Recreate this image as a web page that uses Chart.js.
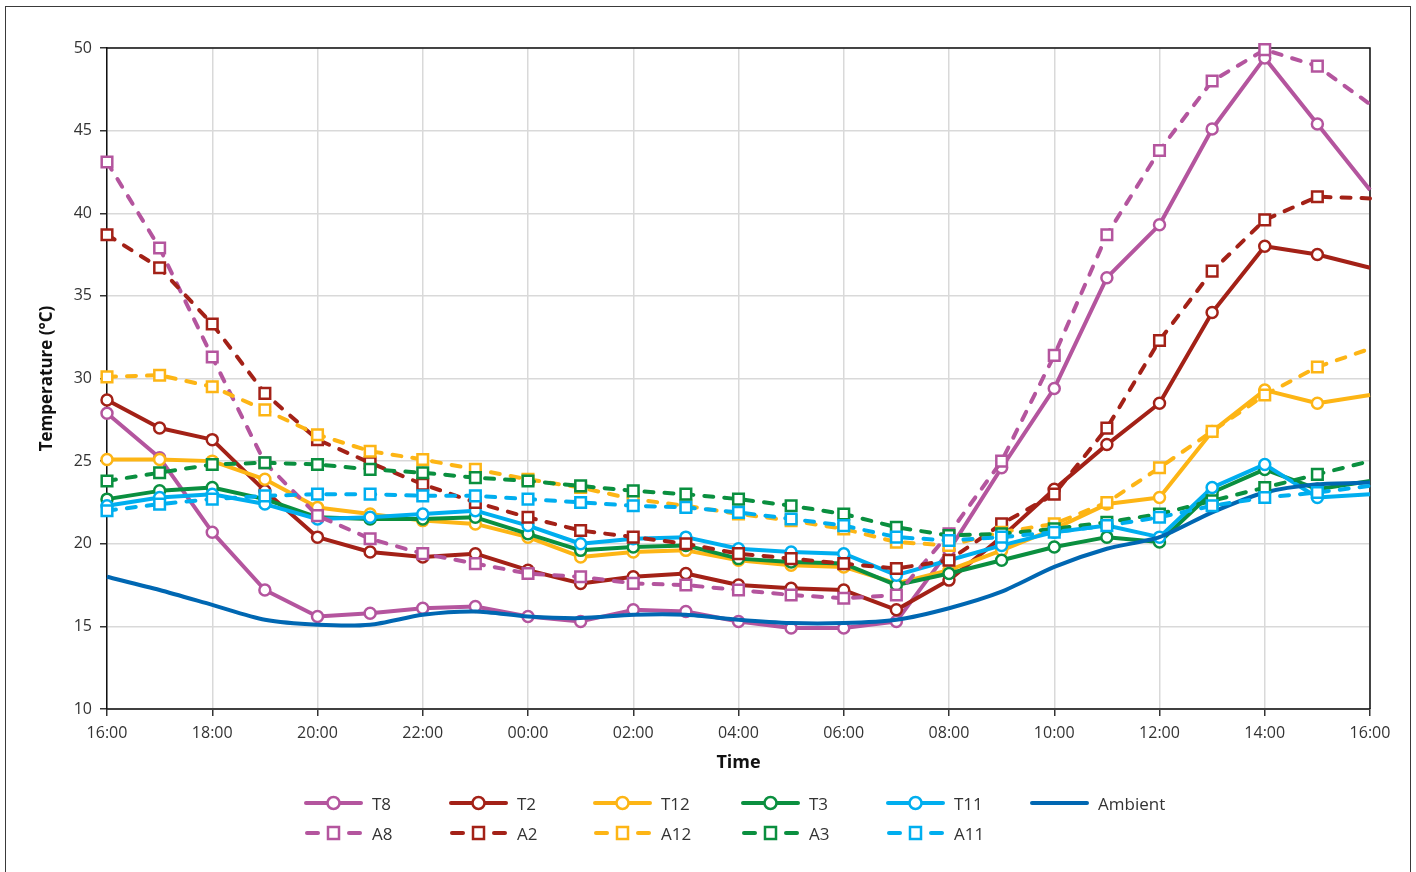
<!DOCTYPE html>
<html>
<head>
<meta charset="utf-8">
<title>Temperature</title>
<script src="https://cdn.jsdelivr.net/npm/chart.js@4.4.1/dist/chart.umd.min.js"></script>
<style>
  html, body { margin: 0; padding: 0; background: #fff; }
  #wrap { position: relative; width: 1416px; height: 872px; overflow: hidden;
          font-family: 'Open Sans', 'Noto Sans', sans-serif; }
  #chart { position: absolute; left: 0; top: 0; }
  #frame { position: absolute; left: 5px; top: 6px; width: 1406px; height: 880px;
           border: 1px solid #3a3a3a; box-sizing: border-box; pointer-events: none; }
  .lg { position: absolute; display: flex; align-items: center; height: 24px;
        font-size: 17px; color: #333; white-space: nowrap; }
  .lg svg { margin-right: 8px; flex: none; }
</style>
</head>
<body>
<div id="wrap">
  <canvas id="chart" width="1416" height="872"></canvas>
  <div id="legend"></div>
  <div id="frame"></div>
</div>
<script>
// Hourly readings, 16:00 to 16:00 the next day
const hours = ['16:00','17:00','18:00','19:00','20:00','21:00','22:00','23:00',
               '00:00','01:00','02:00','03:00','04:00','05:00','06:00','07:00',
               '08:00','09:00','10:00','11:00','12:00','13:00','14:00','15:00','16:00'];

const T8  = [27.9, 25.2, 20.7, 17.2, 15.6, 15.8, 16.1, 16.2, 15.6, 15.3, 16.0, 15.9, 15.3,
             14.9, 14.9, 15.3, 19.6, 24.6, 29.4, 36.1, 39.3, 45.1, 49.4, 45.4, 41.4];
const T2  = [28.7, 27.0, 26.3, 23.2, 20.4, 19.5, 19.2, 19.4, 18.4, 17.6, 18.0, 18.2, 17.5,
             17.3, 17.2, 16.0, 17.8, 20.4, 23.3, 26.0, 28.5, 34.0, 38.0, 37.5, 36.7];
const T12 = [25.1, 25.1, 25.0, 23.9, 22.2, 21.8, 21.4, 21.2, 20.4, 19.2, 19.5, 19.6, 19.0,
             18.7, 18.6, 17.6, 18.4, 19.6, 20.9, 22.4, 22.8, 26.8, 29.3, 28.5, 29.0];
const T3  = [22.7, 23.2, 23.4, 22.7, 21.6, 21.5, 21.5, 21.6, 20.6, 19.6, 19.8, 19.9, 19.1,
             18.9, 18.8, 17.5, 18.2, 19.0, 19.8, 20.4, 20.1, 23.1, 24.5, 23.3, 23.8];
const T11 = [22.3, 22.8, 23.0, 22.4, 21.5, 21.6, 21.8, 22.0, 21.1, 20.0, 20.3, 20.4, 19.7,
             19.5, 19.4, 18.1, 19.0, 19.9, 20.7, 21.1, 20.4, 23.4, 24.8, 22.8, 23.0];
const Ambient = [18.0, 17.2, 16.3, 15.4, 15.1, 15.1, 15.7, 15.9, 15.6, 15.5, 15.7, 15.7, 15.4,
                 15.2, 15.2, 15.4, 16.1, 17.1, 18.6, 19.7, 20.4, 21.9, 23.1, 23.6, 23.7];
const A8  = [43.1, 37.9, 31.3, 24.9, 21.7, 20.3, 19.4, 18.8, 18.2, 18.0, 17.6, 17.5, 17.2,
             16.9, 16.7, 16.9, 20.6, 25.0, 31.4, 38.7, 43.8, 48.0, 49.9, 48.9, 46.6];
const A2  = [38.7, 36.7, 33.3, 29.1, 26.3, 24.9, 23.6, 22.5, 21.6, 20.8, 20.4, 20.0, 19.4,
             19.1, 18.8, 18.5, 19.0, 21.2, 23.0, 27.0, 32.3, 36.5, 39.6, 41.0, 40.9];
const A12 = [30.1, 30.2, 29.5, 28.1, 26.6, 25.6, 25.1, 24.5, 23.9, 23.4, 22.7, 22.3, 21.8,
             21.4, 20.9, 20.1, 19.9, 20.7, 21.2, 22.5, 24.6, 26.8, 29.0, 30.7, 31.8];
const A3  = [23.8, 24.3, 24.8, 24.9, 24.8, 24.5, 24.3, 24.0, 23.8, 23.5, 23.2, 23.0, 22.7,
             22.3, 21.8, 21.0, 20.5, 20.6, 20.9, 21.3, 21.8, 22.6, 23.4, 24.2, 25.0];
const A11 = [22.0, 22.4, 22.7, 22.9, 23.0, 23.0, 22.9, 22.9, 22.7, 22.5, 22.3, 22.2, 21.9,
             21.5, 21.1, 20.4, 20.2, 20.4, 20.7, 21.1, 21.6, 22.3, 22.8, 23.1, 23.5];

const yTicks = [10, 15, 20, 25, 30, 35, 40, 45, 50];

const PURPLE = '#B4559E', RED = '#A32117', YELLOW = '#FDB515',
      GREEN = '#0A8F3F', CYAN = '#00AEEF', BLUE = '#0067B2';

const series = [
  { label: 'T8',  data: T8,  color: PURPLE, dashed: false, marker: 'circle' },
  { label: 'T2',  data: T2,  color: RED,    dashed: false, marker: 'circle' },
  { label: 'T12', data: T12, color: YELLOW, dashed: false, marker: 'circle' },
  { label: 'T3',  data: T3,  color: GREEN,  dashed: false, marker: 'circle' },
  { label: 'T11', data: T11, color: CYAN,   dashed: false, marker: 'circle' },
  { label: 'Ambient', data: Ambient, color: BLUE, dashed: false, marker: null },
  { label: 'A8',  data: A8,  color: PURPLE, dashed: true, marker: 'rect' },
  { label: 'A2',  data: A2,  color: RED,    dashed: true, marker: 'rect' },
  { label: 'A12', data: A12, color: YELLOW, dashed: true, marker: 'rect' },
  { label: 'A3',  data: A3,  color: GREEN,  dashed: true, marker: 'rect' },
  { label: 'A11', data: A11, color: CYAN,   dashed: true, marker: 'rect' }
];

Chart.defaults.font.family = "'Open Sans', 'Noto Sans', sans-serif";

// black frame along the top and right of the plot area
const plotFrame = {
  id: 'plotFrame',
  beforeDatasetsDraw(chart) {
    const { ctx, chartArea: a } = chart;
    ctx.save();
    ctx.strokeStyle = '#111';
    ctx.lineWidth = 1.5;
    ctx.beginPath();
    ctx.moveTo(a.left, a.top);
    ctx.lineTo(a.right, a.top);
    ctx.lineTo(a.right, a.bottom);
    ctx.stroke();
    ctx.restore();
  }
};

const lastIndex = hours.length - 1;

const datasets = series.map((s, i) => {
  const r = s.marker === 'rect' ? 7.5 : (s.marker ? 5.5 : 0);
  // the series run on past the right edge, so the final reading carries no marker
  const radius = ctx => (ctx.dataIndex === lastIndex ? 0 : r);
  return {
    label: s.label,
    data: s.data,
    borderColor: s.color,
    backgroundColor: '#fff',
    borderWidth: 4,
    borderDash: s.dashed ? [9, 11] : [],
    borderCapStyle: s.dashed ? 'round' : 'butt',
    borderJoinStyle: 'round',
    pointStyle: s.marker || false,
    pointRadius: radius,
    pointHoverRadius: radius,
    pointBorderWidth: 2.5,
    pointBackgroundColor: '#fff',
    pointBorderColor: s.color,
    tension: s.marker ? 0 : 0.25,
    order: series.length - i,
    clip: false
  };
});

new Chart(document.getElementById('chart'), {
  type: 'line',
  data: { labels: hours, datasets },
  plugins: [plotFrame],
  options: {
    responsive: false,
    animation: false,
    devicePixelRatio: 1,
    layout: { padding: { left: 0, top: 48, right: 46, bottom: 0 } },
    plugins: { legend: { display: false }, tooltip: { enabled: false } },
    scales: {
      x: {
        type: 'category',
        offset: false,
        ticks: {
          autoSkip: false, maxRotation: 0, minRotation: 0, padding: 8,
          color: '#333', font: { size: 16 },
          callback: (v, i) => (i % 2 === 0 ? hours[i] : '')
        },
        grid: {
          color: c => (c.index % 2 === 0 ? '#d9d9d9' : 'rgba(0,0,0,0)'),
          tickColor: c => (c.index % 2 === 0 ? '#333' : 'rgba(0,0,0,0)'),
          lineWidth: 1.5, tickLength: 7, tickWidth: 1.5
        },
        border: { color: '#404040', width: 2 },
        title: {
          display: true, text: 'Time', color: '#111',
          font: { size: 18, weight: 'bold' }, padding: { top: 0, bottom: 98 }
        },
        afterFit: s => { s.height = 163; }
      },
      y: {
        min: yTicks[0], max: yTicks[yTicks.length - 1],
        afterBuildTicks: s => { s.ticks = yTicks.map(v => ({ value: v })); },
        ticks: { padding: 8, color: '#333', font: { size: 16 } },
        grid: { color: '#d9d9d9', lineWidth: 1.5, tickColor: '#333', tickLength: 7, tickWidth: 1.5 },
        border: { color: '#111', width: 1.5 },
        title: {
          display: true, text: 'Temperature (°C)', color: '#111',
          font: { size: 17, weight: 'bold' }, padding: { top: 37, bottom: 0 }
        },
        afterFit: s => { s.width = 107; }
      }
    }
  }
});

// Legend: two rows, T-series (and Ambient) above, A-series below, in fixed columns
const legendCols = [304, 449, 593, 741, 886, 1030];
const legendRows = [791, 821];
const legendEl = document.getElementById('legend');
const SVGNS = 'http://www.w3.org/2000/svg';

function sample(s) {
  const svg = document.createElementNS(SVGNS, 'svg');
  svg.setAttribute('width', '60');
  svg.setAttribute('height', '24');
  const add = (tag, attrs) => {
    const el = document.createElementNS(SVGNS, tag);
    for (const k in attrs) el.setAttribute(k, attrs[k]);
    svg.appendChild(el);
  };
  if (s.dashed) {
    add('line', { x1: 3, y1: 12, x2: 14, y2: 12, stroke: s.color, 'stroke-width': 4, 'stroke-linecap': 'round' });
    add('line', { x1: 45, y1: 12, x2: 56, y2: 12, stroke: s.color, 'stroke-width': 4, 'stroke-linecap': 'round' });
    add('rect', { x: 24, y: 6, width: 11, height: 12, fill: '#fff', stroke: s.color, 'stroke-width': 2.5 });
  } else {
    add('line', { x1: 2, y1: 12, x2: 57, y2: 12, stroke: s.color, 'stroke-width': 4, 'stroke-linecap': 'round' });
    if (s.marker) add('circle', { cx: 29.5, cy: 12, r: 6, fill: '#fff', stroke: s.color, 'stroke-width': 2.5 });
  }
  return svg;
}

series.forEach((s, i) => {
  const row = i < 6 ? 0 : 1;
  const col = i < 6 ? i : i - 6;
  const item = document.createElement('div');
  item.className = 'lg';
  item.style.left = legendCols[col] + 'px';
  item.style.top = legendRows[row] + 'px';
  item.appendChild(sample(s));
  const txt = document.createElement('span');
  txt.textContent = s.label;
  item.appendChild(txt);
  legendEl.appendChild(item);
});
</script>
</body>
</html>
